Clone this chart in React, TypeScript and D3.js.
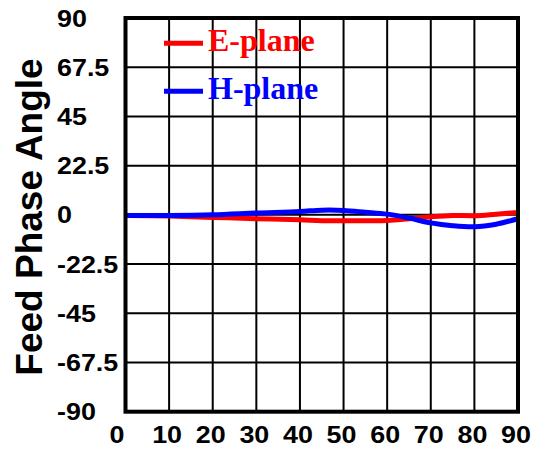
import * as d3 from "d3";

const angles = [0, 10, 20, 30, 40, 45, 50, 55, 60, 65, 70, 75, 80, 85, 90];
const ePlane = [0, -0.3, -0.9, -1.5, -2.0, -2.4, -2.4, -2.4, -2.3, -1.5, -0.6, 0, -0.1, 0.6, 1.4];
const hPlane = [0, 0, 0.3, 1.1, 1.8, 2.4, 2.3, 1.5, 0.6, -1.2, -3.4, -4.7, -5.2, -4.0, -1.5];

const xTicks = [0, 10, 20, 30, 40, 50, 60, 70, 80, 90];
const yTicks = [90, 67.5, 45, 22.5, 0, -22.5, -45, -67.5, -90];
const yTickLabels = ["90", "67.5", "45", "22.5", "0", "-22.5", "-45", "-67.5", "-90"];

const series = [
  { name: "E-plane", values: ePlane, color: "#ff0000" },
  { name: "H-plane", values: hPlane, color: "#0000ff" },
];

const W = 536;
const H = 453;
const PLOT = { left: 125.5, right: 518, top: 18, bottom: 411.7 };

const x = d3.scaleLinear().domain([0, 90]).range([PLOT.left, PLOT.right]);
const y = d3.scaleLinear().domain([-90, 90]).range([PLOT.bottom, PLOT.top]);

const line = d3
  .line<number>()
  .x((_, i) => x(angles[i]))
  .y((d) => y(d) + 0.6)
  .curve(d3.curveCatmullRom);

const sans = "'Liberation Sans', Arial, sans-serif";
const serif = "'Liberation Serif', 'Times New Roman', serif";

export default function App() {
  return (
    <div style={{ position: "absolute", left: 0, top: 0 }}>
      <svg width={W} height={H} style={{ display: "block", background: "#fff" }}>
        {/* grid */}
        {xTicks.slice(1, -1).map((t) => (
          <line key={`gx${t}`} x1={x(t)} x2={x(t)} y1={PLOT.top} y2={PLOT.bottom} stroke="#000" strokeWidth={2} />
        ))}
        {yTicks.slice(1, -1).map((t) => (
          <line key={`gy${t}`} x1={PLOT.left} x2={PLOT.right} y1={y(t)} y2={y(t)} stroke="#000" strokeWidth={2} />
        ))}

        {/* curves */}
        {series.map((s) => (
          <path key={s.name} d={line(s.values) ?? ""} fill="none" stroke={s.color} strokeWidth={5} strokeLinecap="butt" />
        ))}

        {/* frame */}
        <rect
          x={PLOT.left}
          y={PLOT.top}
          width={PLOT.right - PLOT.left}
          height={PLOT.bottom - PLOT.top}
          fill="none"
          stroke="#000"
          strokeWidth={4}
        />

        {/* legend */}
        {series.map((s, i) => (
          <g key={`lg${s.name}`} transform={`translate(164,${43.3 + i * 48})`}>
            <line x1={0} x2={39} y1={0} y2={0} stroke={s.color} strokeWidth={5} />
            <text x={44} y={7.8} fill={s.color} fontFamily={serif} fontWeight="bold" fontSize={32}>
              {s.name}
            </text>
          </g>
        ))}

        {/* y tick labels */}
        {yTicks.map((t, i) => (
          <text
            key={`yl${t}`}
            transform={`translate(57,${y(t) + 8.6}) scale(1.12,1)`}
            fontFamily={sans}
            fontWeight="bold"
            fontSize={24}
            fill="#000"
          >
            {yTickLabels[i]}
          </text>
        ))}

        {/* x tick labels */}
        {xTicks.map((t, i) => (
          <text
            key={`xl${t}`}
            transform={`translate(${x(t) - (i === 0 ? 8.5 : 2)},443) scale(1.12,1)`}
            textAnchor="middle"
            fontFamily={sans}
            fontWeight="bold"
            fontSize={24}
            fill="#000"
          >
            {t}
          </text>
        ))}

        {/* y axis title */}
        <text
          transform="translate(42,217) rotate(-90)"
          textAnchor="middle"
          fontFamily={sans}
          fontWeight="bold"
          fontSize={37}
          fill="#000"
        >
          Feed Phase Angle
        </text>
      </svg>
    </div>
  );
}
